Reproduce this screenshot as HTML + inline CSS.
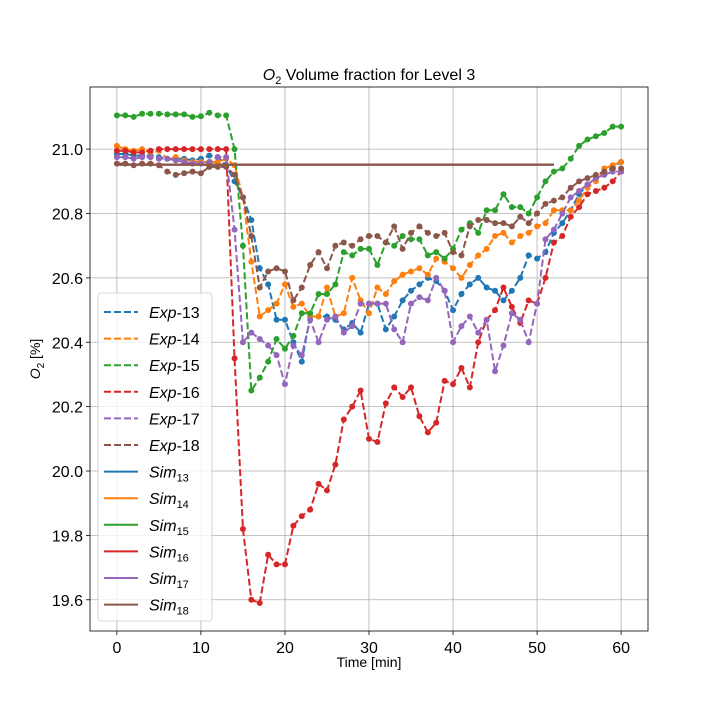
<!DOCTYPE html>
<html><head><meta charset="utf-8"><style>
body{margin:0;background:#fff}
svg text{font-family:"Liberation Sans","DejaVu Sans",sans-serif;fill:#000}
</style></head><body>
<svg id="chart" width="720" height="720" xmlns="http://www.w3.org/2000/svg"></svg>
<script>
const xTicks=[0,10,20,30,40,50,60];
const yTicks=[19.6,19.8,20.0,20.2,20.4,20.6,20.8,21.0];
const seriesNames=["Exp-13","Exp-14","Exp-15","Exp-16","Exp-17","Exp-18"];
const simNames=["Sim13","Sim14","Sim15","Sim16","Sim17","Sim18"];
const colors=["#1f77b4","#ff7f0e","#2ca02c","#d62728","#9467bd","#8c564b"];
const exp13=[20.985,20.985,20.98,20.98,20.98,20.975,20.97,20.97,20.97,20.965,20.97,20.98,20.975,20.95,20.9,20.85,20.78,20.63,20.58,20.47,20.47,20.40,20.34,20.48,20.48,20.48,20.47,20.44,20.46,20.43,20.52,20.52,20.44,20.48,20.53,20.56,20.58,20.6,20.59,20.56,20.50,20.55,20.58,20.60,20.57,20.56,20.53,20.56,20.60,20.67,20.66,20.68,20.74,20.77,20.81,20.86,20.89,20.91,20.93,20.94,20.96];
const exp14=[21.01,21.0,20.995,21.0,20.99,20.995,20.97,20.975,20.965,20.96,20.96,20.96,20.96,20.97,20.95,20.85,20.65,20.48,20.5,20.52,20.58,20.51,20.52,20.48,20.48,20.57,20.48,20.49,20.6,20.53,20.49,20.57,20.55,20.59,20.61,20.62,20.63,20.61,20.66,20.65,20.63,20.6,20.64,20.67,20.69,20.73,20.74,20.71,20.73,20.74,20.76,20.77,20.81,20.81,20.81,20.84,20.88,20.9,20.94,20.95,20.96];
const exp15=[21.105,21.105,21.1,21.11,21.11,21.11,21.108,21.108,21.108,21.1,21.102,21.113,21.105,21.105,21.0,20.7,20.25,20.29,20.34,20.41,20.38,20.42,20.49,20.49,20.55,20.55,20.58,20.68,20.67,20.69,20.69,20.64,20.71,20.7,20.73,20.72,20.72,20.67,20.68,20.66,20.69,20.75,20.77,20.74,20.81,20.81,20.86,20.82,20.82,20.8,20.85,20.9,20.93,20.94,20.97,21.01,21.03,21.04,21.05,21.07,21.07];
const exp16=[20.995,20.995,20.99,20.99,20.995,21.0,21.0,21.0,21.0,21.0,21.0,21.0,21.0,21.0,20.35,19.82,19.6,19.59,19.74,19.71,19.71,19.83,19.86,19.88,19.96,19.94,20.02,20.16,20.2,20.25,20.1,20.09,20.21,20.26,20.23,20.26,20.17,20.12,20.15,20.28,20.27,20.32,20.26,20.4,20.47,20.5,20.57,20.51,20.46,20.53,20.52,20.6,20.71,20.73,20.79,20.82,20.86,20.87,20.88,20.9,20.93];
const exp17=[20.975,20.975,20.97,20.975,20.975,20.97,20.97,20.965,20.96,20.955,20.955,20.96,20.975,20.975,20.75,20.4,20.43,20.41,20.39,20.36,20.27,20.39,20.36,20.47,20.4,20.47,20.48,20.43,20.45,20.52,20.52,20.52,20.52,20.44,20.4,20.52,20.54,20.53,20.6,20.56,20.4,20.45,20.48,20.43,20.47,20.31,20.39,20.49,20.47,20.4,20.52,20.72,20.75,20.8,20.85,20.87,20.89,20.91,20.92,20.93,20.93];
const exp18=[20.955,20.955,20.95,20.955,20.955,20.95,20.93,20.92,20.925,20.93,20.925,20.945,20.945,20.945,20.92,20.85,20.73,20.57,20.62,20.63,20.62,20.53,20.57,20.64,20.68,20.63,20.7,20.71,20.7,20.72,20.73,20.73,20.71,20.76,20.69,20.74,20.76,20.74,20.73,20.74,20.68,20.67,20.76,20.78,20.78,20.77,20.77,20.76,20.79,20.77,20.8,20.83,20.84,20.85,20.88,20.9,20.91,20.92,20.93,20.94,20.94];
const simTimes=[0,52];
const simValues=[20.952,20.952];
const expData=[exp13,exp14,exp15,exp16,exp17,exp18];

const L=90,R=648,T=87,B=631,X0=-3.2,X1=63.2,Y0=19.503,Y1=21.193;
const sx=v=>L+(v-X0)/(X1-X0)*(R-L);
const sy=v=>B-(v-Y0)/(Y1-Y0)*(B-T);
const svg=document.getElementById('chart');
const NS="http://www.w3.org/2000/svg";
function mk(tag,attrs,parent){const e=document.createElementNS(NS,tag);for(const k in attrs)e.setAttribute(k,attrs[k]);(parent||svg).appendChild(e);return e;}

const grid=mk('g',{});


xTicks.forEach(t=>{
  const l=mk('line',{x1:sx(t),x2:sx(t),y1:T,y2:B,stroke:'#b0b0b0','stroke-width':0.8},grid);
  
  
  const tk=mk('line',{x1:sx(t),x2:sx(t),y1:B,y2:B+4,stroke:'#000','stroke-width':0.8});
  
  
  const tx=mk('text',{x:sx(t),y:B+22,'text-anchor':'middle','font-size':16});
  tx.textContent=t;
  
  
});
yTicks.forEach(t=>{
  const l=mk('line',{x1:L,x2:R,y1:sy(t),y2:sy(t),stroke:'#b0b0b0','stroke-width':0.8},grid);
  
  
  const tk=mk('line',{x1:L-4,x2:L,y1:sy(t),y2:sy(t),stroke:'#000','stroke-width':0.8});
  
  
  const tx=mk('text',{x:L-7,y:sy(t)+6,'text-anchor':'end','font-size':16});
  tx.textContent=t.toFixed(1);
  
  
});

expData.forEach((d,i)=>{
  const g=mk('g',{});
  
  
  const pts=d.map((v,t)=>sx(t)+','+sy(v)).join(' ');
  mk('polyline',{points:pts,fill:'none',stroke:colors[i],'stroke-width':2,'stroke-dasharray':'7,3'},g);
  d.forEach((v,t)=>{
    const c=mk('circle',{cx:sx(t),cy:sy(v),r:3,fill:colors[i]},g);
    
    
  });
});
simNames.forEach((n,i)=>{
  const p=mk('polyline',{points:simTimes.map((t,j)=>sx(t)+','+sy(simValues[j])).join(' '),fill:'none',stroke:colors[i],'stroke-width':2.2});
  
  
});

const frame=mk('rect',{x:L,y:T,width:R-L,height:B-T,fill:'none',stroke:'#000','stroke-width':0.8});



const leg=mk('g',{});


mk('rect',{x:98,y:293,width:114,height:328,rx:3,fill:'rgba(255,255,255,0.8)',stroke:'#ccc','stroke-width':0.8},leg);
const allNames=seriesNames.concat(simNames);
allNames.forEach((n,k)=>{
  const y=312+k*26.6;const c=colors[k%6];const dashed=k<6;
  const e=mk('g',{},leg);
  
  
  const ln=mk('line',{x1:104,x2:138,y1:y,y2:y,stroke:c,'stroke-width':2},e);
  if(dashed)ln.setAttribute('stroke-dasharray','7,3');
  const tx=mk('text',{x:149,y:y+6,'font-size':16},e);
  if(dashed){tx.innerHTML='<tspan font-style="italic">Exp</tspan>-'+n.split('-')[1];}
  else{tx.innerHTML='<tspan font-style="italic">Sim</tspan><tspan font-size="11" dy="4">'+n.slice(3)+'</tspan>';}
});
</script>
<div style="position:absolute;left:0;top:0;width:720px;height:720px;pointer-events:none">
<svg width="720" height="720">
<text x="369" y="80" text-anchor="middle" font-size="16"><tspan font-style="italic">O</tspan><tspan font-size="11" dy="4">2</tspan><tspan dy="-4"> Volume fraction for Level 3</tspan></text>
<text x="369" y="667" text-anchor="middle" font-size="14">Time [min]</text>
<text transform="translate(40,359) rotate(-90)" text-anchor="middle" font-size="14"><tspan font-style="italic">O</tspan><tspan font-size="10" dy="4">2</tspan><tspan dy="-4"> [%]</tspan></text>
</svg></div>
</body></html>
